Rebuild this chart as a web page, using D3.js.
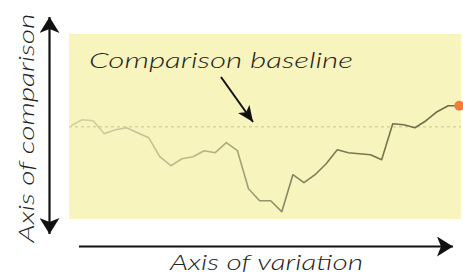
<!DOCTYPE html>
<html><head><meta charset="utf-8">
<script src="https://cdn.jsdelivr.net/npm/d3@7"></script>
<style>html,body{margin:0;padding:0;background:#fff;}</style>
</head><body>
<script>
const values = [101, 107, 106, 93, 97, 99, 94, 89, 70, 61, 68, 70, 76, 74, 84, 76, 38, 26, 26, 15, 52, 44, 52, 63, 77, 74, 73, 72, 67, 103, 102, 99, 106, 115, 121, 121];
const baselineValue = 100;
const labels = { title: "Comparison baseline", yAxis: "Axis of comparison", xAxis: "Axis of variation" };

const W = 463, H = 272;
const svg = d3.select("body").append("svg").attr("width", W).attr("height", H);
const font = "Lato, 'Open Sans', sans-serif";

const plot = { x0: 69, x1: 461, y0: 34, y1: 219 };
const x = d3.scaleLinear().domain([0, values.length - 1]).range([71, 459.3]);
const y = d3.scaleLinear().domain([0, 100]).range([226.7, 126.7]);

const defs = svg.append("defs");
const mBig = defs.append("marker").attr("id", "big").attr("viewBox", "0 0 16 20")
  .attr("refX", 16).attr("refY", 10).attr("markerWidth", 16).attr("markerHeight", 20)
  .attr("markerUnits", "userSpaceOnUse").attr("orient", "auto-start-reverse");
mBig.append("path").attr("d", "M0,0 L16,10 L0,20 L4,10 Z").attr("fill", "#111");
const mSmall = defs.append("marker").attr("id", "small").attr("viewBox", "0 0 16 14")
  .attr("refX", 16).attr("refY", 7).attr("markerWidth", 16).attr("markerHeight", 14)
  .attr("markerUnits", "userSpaceOnUse").attr("orient", "auto");
mSmall.append("path").attr("d", "M0,0 L16,7 L0,14 L4,7 Z").attr("fill", "#111");

const grad = defs.append("linearGradient").attr("id", "lg").attr("gradientUnits", "userSpaceOnUse")
  .attr("x1", 71).attr("x2", 460).attr("y1", 0).attr("y2", 0);
[[0, "#d2d2a4"], [0.35, "#b4b487"], [0.6, "#7f7f58"], [1, "#6a6a46"]].forEach(([o, c]) =>
  grad.append("stop").attr("offset", o).attr("stop-color", c));

svg.append("rect").attr("x", plot.x0).attr("y", plot.y0)
  .attr("width", plot.x1 - plot.x0).attr("height", plot.y1 - plot.y0).attr("fill", "#f7f4bd");

svg.append("line").attr("x1", plot.x0).attr("x2", plot.x1)
  .attr("y1", y(baselineValue)).attr("y2", y(baselineValue))
  .attr("stroke", "#d8d3a2").attr("stroke-width", 1.5).attr("stroke-dasharray", "3,3");

const line = d3.line().x((d, i) => x(i)).y(d => y(d));
svg.append("path").datum(values).attr("d", line).attr("fill", "none")
  .attr("stroke", "url(#lg)").attr("stroke-width", 1.6).attr("stroke-linejoin", "round");

svg.append("circle").attr("cx", x(values.length - 1)).attr("cy", y(values[values.length - 1]))
  .attr("r", 5).attr("fill", "#f47b3a");

// title + pointer arrow
svg.append("text").attr("x", 89).attr("y", 68).attr("font-family", font)
  .attr("font-style", "italic").attr("font-weight", 300).attr("font-size", 22).attr("fill", "#222")
  .attr("textLength", 264).attr("lengthAdjust", "spacingAndGlyphs").text(labels.title);
svg.append("line").attr("x1", 221).attr("y1", 77).attr("x2", 253).attr("y2", 122)
  .attr("stroke", "#111").attr("stroke-width", 2).attr("marker-end", "url(#small)");

// vertical axis arrow
svg.append("line").attr("x1", 49.5).attr("x2", 49.5).attr("y1", 234).attr("y2", 17)
  .attr("stroke", "#111").attr("stroke-width", 2.2)
  .attr("marker-start", "url(#big)").attr("marker-end", "url(#big)");
svg.append("text").attr("transform", "translate(34,128) rotate(-90)").attr("text-anchor", "middle")
  .attr("font-family", font).attr("font-style", "italic").attr("font-weight", 300).attr("font-size", 22)
  .attr("fill", "#222").attr("textLength", 229).attr("lengthAdjust", "spacingAndGlyphs").text(labels.yAxis);

// horizontal axis arrow
svg.append("line").attr("x1", 79).attr("x2", 453).attr("y1", 246.5).attr("y2", 246.5)
  .attr("stroke", "#111").attr("stroke-width", 2.2).attr("marker-end", "url(#big)");
svg.append("text").attr("x", 266.5).attr("y", 270).attr("text-anchor", "middle")
  .attr("font-family", font).attr("font-style", "italic").attr("font-weight", 300).attr("font-size", 22)
  .attr("fill", "#222").attr("textLength", 193).attr("lengthAdjust", "spacingAndGlyphs").text(labels.xAxis);
</script>
</body></html>
